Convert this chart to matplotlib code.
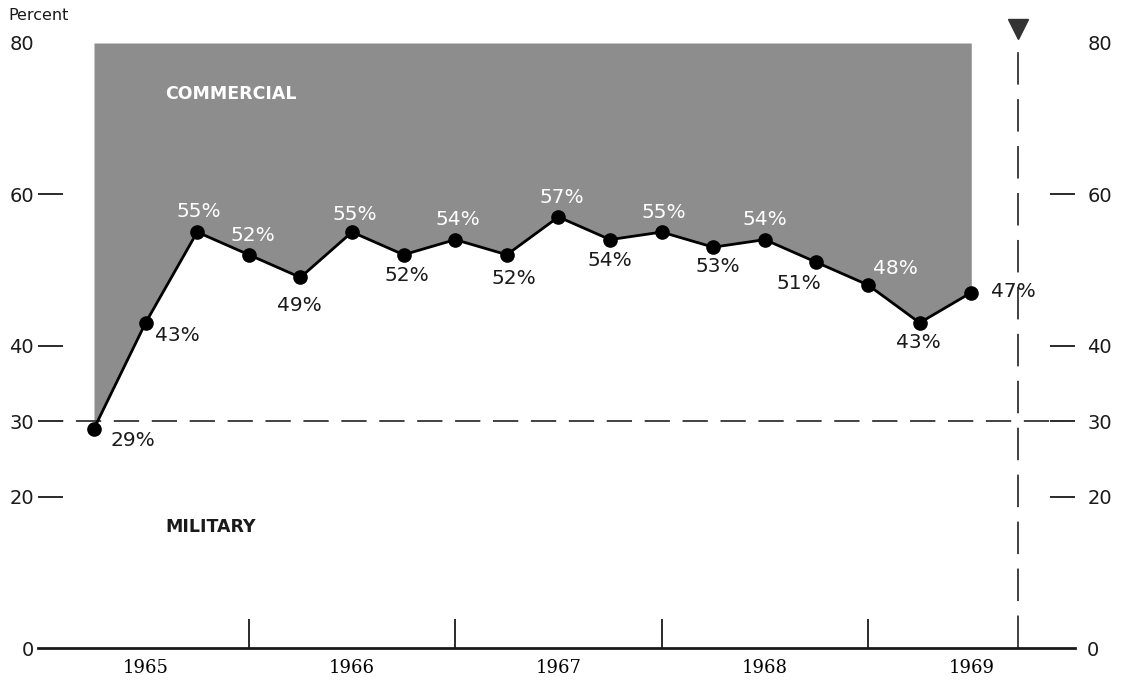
import matplotlib
matplotlib.use("Agg")
import matplotlib.pyplot as plt

# Data: military share of orders, end of each quarter, 1965 Q1 .. 1969 Q2
quarters = list(range(1, 19))  # quarter-ends, counted from start of 1965
military = [29, 43, 55, 52, 49, 55, 52, 54, 52, 57, 54, 55, 53, 54, 51, 48, 43, 47]
year_labels = ["1965", "1966", "1967", "1968", "1969"]
year_centers = [2, 6, 10, 14, 18]
year_breaks = [4, 8, 12, 16]
yticks = [0, 20, 30, 40, 60, 80]
now_q = 18.9

# label layout (pixel offsets from each point, text colour)
label_dx = [39, 32, 2, 4, -1, 3, 3, 3, 7, 3, 0, 2, 5, 0, -18, 27, -1, 42]
label_dy = [-12, -13, 21, 19, -28, 18, -21, 20, -24, 19, -21, 20, -19, 20, -21, 17, -20, 1]
label_white = [False, False, True, True, False, True, False, True, False, True,
               False, True, False, True, False, True, False, False]

fig = plt.figure(figsize=(11.22, 6.83), dpi=100)
ax = fig.add_axes([38 / 1122, 35 / 683, 1037 / 1122, 605 / 683])
ax.set_xlim(-0.085, 20.01)
ax.set_ylim(0, 80)

# commercial area (above the line up to 80%)
ax.fill_between(quarters, military, 80, color="#8d8d8d", linewidth=0, zorder=1)

# 30% reference line
ax.axhline(30, color="#333333", lw=1.3, dashes=(14, 7), zorder=2)

# "now" marker
ax.plot([now_q, now_q], [0, 79], color="#333333", lw=1.3, dashes=(18, 8), zorder=2)
ax.plot([now_q], [81.8], marker="v", color="#333333", markersize=15, clip_on=False)

# military line
ax.plot(quarters, military, color="black", lw=2, marker="o", markersize=9.5, zorder=4)

for q, v, dx, dy, w in zip(quarters, military, label_dx, label_dy, label_white):
    ax.annotate(f"{v}%", (q, v), xytext=(dx, dy), textcoords="offset pixels",
                ha="center", va="center", fontsize=14.5,
                color="white" if w else "#1a1a1a", zorder=5)

ax.text(2.38, 73.2, "COMMERCIAL", color="white", fontsize=12.5, fontweight="bold",
        ha="left", va="center")
ax.text(2.38, 16.0, "MILITARY", color="#1a1a1a", fontsize=12.5, fontweight="bold",
        ha="left", va="center")

# spines
for s in ["top", "left", "right"]:
    ax.spines[s].set_visible(False)
ax.spines["bottom"].set_linewidth(2)
ax.spines["bottom"].set_color("#1a1a1a")

# x axis: year separators as major ticks, year names as minor tick labels
ax.set_xticks(year_breaks)
ax.set_xticklabels([])
ax.tick_params(axis="x", which="major", direction="in", length=21, width=1.3, color="#1a1a1a")
ax.set_xticks(year_centers, minor=True)
ax.set_xticklabels(year_labels, minor=True, fontsize=13, family="DejaVu Serif")
ax.tick_params(axis="x", which="minor", length=0, pad=8)

# y axis on both sides, dashes as inward ticks
ax.set_yticks(yticks)
ax.set_yticklabels([str(t) for t in yticks])
ax.tick_params(axis="y", which="major", direction="in", length=18, width=1.3,
               color="#1a1a1a", left=True, right=True, labelleft=True, labelright=True,
               labelsize=14, labelcolor="#1a1a1a", pad=3)
for i, t in enumerate(ax.yaxis.get_major_ticks()):
    t.label2.set_x(1.0 + 8 / 1037)
    if yticks[i] in (0, 80):
        t.tick1line.set_visible(False)
        t.tick2line.set_visible(False)

fig.text(8 / 1122, 1 - 16 / 683, "Percent", fontsize=11.5, ha="left", va="center", color="#1a1a1a")

fig.savefig("out.png", dpi=100, facecolor="white")
